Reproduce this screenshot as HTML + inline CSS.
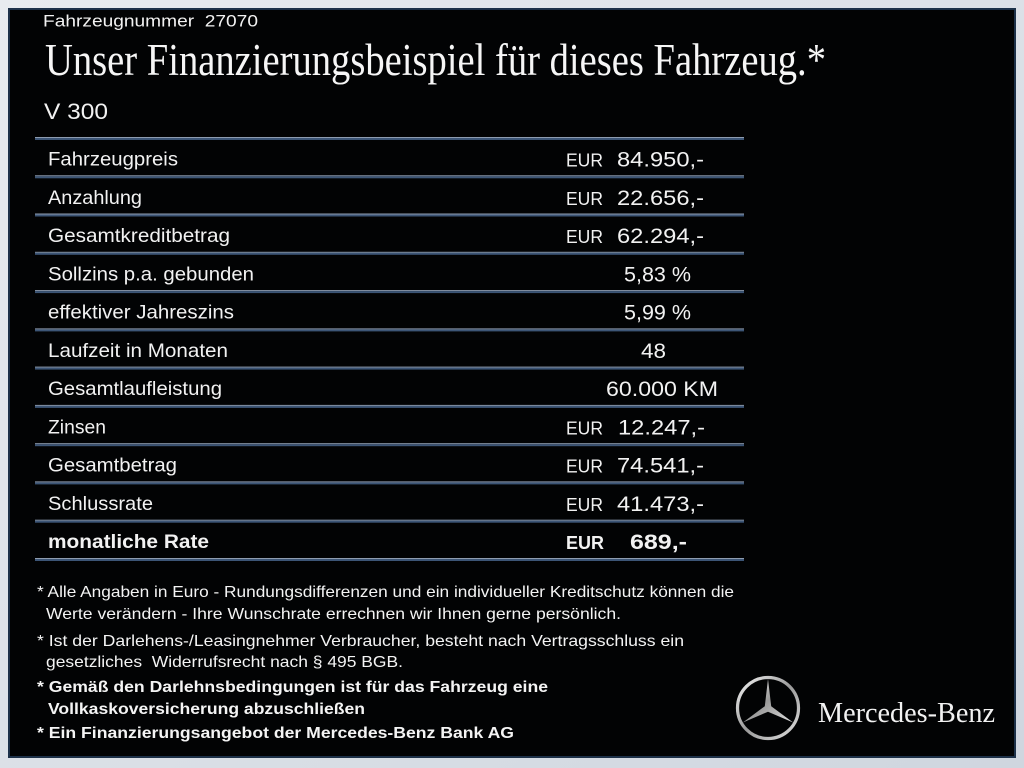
<!DOCTYPE html>
<html>
<head>
<meta charset="utf-8">
<style>
html,body{margin:0;padding:0;width:1024px;height:768px;overflow:hidden;background:#dde2e8;}
svg{display:block;}
.lab{font-family:"Liberation Sans",sans-serif;font-size:19.5px;fill:#f2f2f2;}
.eur{font-family:"Liberation Sans",sans-serif;font-size:18px;fill:#f2f2f2;}
.num{font-family:"Liberation Sans",sans-serif;font-size:21px;fill:#f2f2f2;}
.b{font-weight:bold;}
.fn{font-family:"Liberation Sans",sans-serif;font-size:16px;fill:#f4f4f4;}
</style>
</head>
<body>
<svg width="1024" height="768" viewBox="0 0 1024 768" xmlns="http://www.w3.org/2000/svg">
<defs>
<linearGradient id="bg" x1="0" y1="0" x2="1" y2="1">
<stop offset="0" stop-color="#e8ebef"/>
<stop offset="1" stop-color="#cfd6df"/>
</linearGradient>
<linearGradient id="silver" x1="0" y1="0" x2="1" y2="1">
<stop offset="0" stop-color="#f4f4f4"/>
<stop offset="0.5" stop-color="#9a9a9a"/>
<stop offset="1" stop-color="#e0e0e0"/>
</linearGradient>
</defs>
<rect x="0" y="0" width="1024" height="768" fill="url(#bg)"/>
<rect x="9" y="9" width="1006" height="748" fill="#020304" stroke="#1d3149" stroke-width="2"/>

<text x="43" y="26.5" font-family="Liberation Sans, sans-serif" font-size="16.3" fill="#f2f2f2" textLength="215" lengthAdjust="spacingAndGlyphs" xml:space="preserve">Fahrzeugnummer  27070</text>
<text x="45" y="75" font-family="Liberation Serif, serif" font-size="45" fill="#f6f6f6" textLength="781" lengthAdjust="spacingAndGlyphs">Unser Finanzierungsbeispiel für dieses Fahrzeug.*</text>
<text x="44" y="119" font-family="Liberation Sans, sans-serif" font-size="22" fill="#f2f2f2" textLength="64" lengthAdjust="spacingAndGlyphs">V 300</text>

<g id="lines">
<rect x="35" y="137" width="709" height="1" fill="#8e9cb0"/><rect x="35" y="138" width="709" height="2" fill="#3c5576"/>
<rect x="35" y="175.3" width="709" height="1" fill="#8e9cb0"/><rect x="35" y="176.3" width="709" height="2" fill="#3c5576"/>
<rect x="35" y="213.5" width="709" height="1" fill="#8e9cb0"/><rect x="35" y="214.5" width="709" height="2" fill="#3c5576"/>
<rect x="35" y="251.8" width="709" height="1" fill="#8e9cb0"/><rect x="35" y="252.8" width="709" height="2" fill="#3c5576"/>
<rect x="35" y="290.1" width="709" height="1" fill="#8e9cb0"/><rect x="35" y="291.1" width="709" height="2" fill="#3c5576"/>
<rect x="35" y="328.4" width="709" height="1" fill="#8e9cb0"/><rect x="35" y="329.4" width="709" height="2" fill="#3c5576"/>
<rect x="35" y="366.6" width="709" height="1" fill="#8e9cb0"/><rect x="35" y="367.6" width="709" height="2" fill="#3c5576"/>
<rect x="35" y="404.9" width="709" height="1" fill="#8e9cb0"/><rect x="35" y="405.9" width="709" height="2" fill="#3c5576"/>
<rect x="35" y="443.2" width="709" height="1" fill="#8e9cb0"/><rect x="35" y="444.2" width="709" height="2" fill="#3c5576"/>
<rect x="35" y="481.4" width="709" height="1" fill="#8e9cb0"/><rect x="35" y="482.4" width="709" height="2" fill="#3c5576"/>
<rect x="35" y="519.7" width="709" height="1" fill="#8e9cb0"/><rect x="35" y="520.7" width="709" height="2" fill="#3c5576"/>
<rect x="35" y="558" width="709" height="1" fill="#8e9cb0"/><rect x="35" y="559" width="709" height="2" fill="#3c5576"/>
</g>

<!-- labels -->
<text class="lab" x="48" y="165.5" textLength="130" lengthAdjust="spacingAndGlyphs">Fahrzeugpreis</text>
<text class="lab" x="48" y="203.8" textLength="94" lengthAdjust="spacingAndGlyphs">Anzahlung</text>
<text class="lab" x="48" y="242" textLength="182" lengthAdjust="spacingAndGlyphs">Gesamtkreditbetrag</text>
<text class="lab" x="48" y="280.3" textLength="206" lengthAdjust="spacingAndGlyphs">Sollzins p.a. gebunden</text>
<text class="lab" x="48" y="318.6" textLength="186" lengthAdjust="spacingAndGlyphs">effektiver Jahreszins</text>
<text class="lab" x="48" y="356.9" textLength="180" lengthAdjust="spacingAndGlyphs">Laufzeit in Monaten</text>
<text class="lab" x="48" y="395.1" textLength="174" lengthAdjust="spacingAndGlyphs">Gesamtlaufleistung</text>
<text class="lab" x="48" y="433.4" textLength="58" lengthAdjust="spacingAndGlyphs">Zinsen</text>
<text class="lab" x="48" y="471.7" textLength="129" lengthAdjust="spacingAndGlyphs">Gesamtbetrag</text>
<text class="lab" x="48" y="509.9" textLength="105" lengthAdjust="spacingAndGlyphs">Schlussrate</text>
<text class="lab b" x="48" y="548.2" textLength="161" lengthAdjust="spacingAndGlyphs">monatliche Rate</text>

<!-- values -->
<text class="eur" x="566" y="166.5" textLength="37" lengthAdjust="spacingAndGlyphs">EUR</text>
<text class="num" x="617" y="166.5" textLength="87" lengthAdjust="spacingAndGlyphs">84.950,-</text>
<text class="eur" x="566" y="204.8" textLength="37" lengthAdjust="spacingAndGlyphs">EUR</text>
<text class="num" x="617" y="204.8" textLength="87" lengthAdjust="spacingAndGlyphs">22.656,-</text>
<text class="eur" x="566" y="243" textLength="37" lengthAdjust="spacingAndGlyphs">EUR</text>
<text class="num" x="617" y="243" textLength="87" lengthAdjust="spacingAndGlyphs">62.294,-</text>
<text class="num" x="624" y="281.3" textLength="67" lengthAdjust="spacingAndGlyphs">5,83 %</text>
<text class="num" x="624" y="319.6" textLength="67" lengthAdjust="spacingAndGlyphs">5,99 %</text>
<text class="num" x="641" y="358" textLength="25" lengthAdjust="spacingAndGlyphs">48</text>
<text class="num" x="606" y="396.1" textLength="112" lengthAdjust="spacingAndGlyphs">60.000 KM</text>
<text class="eur" x="566" y="434.4" textLength="37" lengthAdjust="spacingAndGlyphs">EUR</text>
<text class="num" x="618" y="434.4" textLength="87" lengthAdjust="spacingAndGlyphs">12.247,-</text>
<text class="eur" x="566" y="472.7" textLength="37" lengthAdjust="spacingAndGlyphs">EUR</text>
<text class="num" x="617" y="472.7" textLength="87" lengthAdjust="spacingAndGlyphs">74.541,-</text>
<text class="eur" x="566" y="510.9" textLength="37" lengthAdjust="spacingAndGlyphs">EUR</text>
<text class="num" x="617" y="510.9" textLength="87" lengthAdjust="spacingAndGlyphs">41.473,-</text>
<text class="eur b" x="566" y="549.2" textLength="38" lengthAdjust="spacingAndGlyphs">EUR</text>
<text class="num b" x="630" y="549.2" textLength="57" lengthAdjust="spacingAndGlyphs">689,-</text>

<!-- footnotes -->
<text class="fn" x="37" y="597" textLength="697" lengthAdjust="spacingAndGlyphs">* Alle Angaben in Euro - Rundungsdifferenzen und ein individueller Kreditschutz können die</text>
<text class="fn" x="46" y="619" textLength="575" lengthAdjust="spacingAndGlyphs">Werte verändern - Ihre Wunschrate errechnen wir Ihnen gerne persönlich.</text>
<text class="fn" x="37" y="646" textLength="647" lengthAdjust="spacingAndGlyphs">* Ist der Darlehens-/Leasingnehmer Verbraucher, besteht nach Vertragsschluss ein</text>
<text class="fn" x="46" y="667" textLength="357" lengthAdjust="spacingAndGlyphs" xml:space="preserve">gesetzliches  Widerrufsrecht nach § 495 BGB.</text>
<text class="fn b" x="37" y="692" textLength="511" lengthAdjust="spacingAndGlyphs">* Gemäß den Darlehnsbedingungen ist für das Fahrzeug eine</text>
<text class="fn b" x="48" y="714" textLength="317" lengthAdjust="spacingAndGlyphs">Vollkaskoversicherung abzuschließen</text>
<text class="fn b" x="37" y="738" textLength="477" lengthAdjust="spacingAndGlyphs">* Ein Finanzierungsangebot der Mercedes-Benz Bank AG</text>

<!-- logo -->
<circle cx="768" cy="708" r="30.5" fill="none" stroke="url(#silver)" stroke-width="3.2"/>
<polygon points="768,679 771.2,706.2 793.1,722.5 768,711.7 742.9,722.5 764.8,706.2" fill="url(#silver)"/>
<text x="818" y="722" font-family="Liberation Serif, serif" font-size="28" fill="#f2f2f2" textLength="177" lengthAdjust="spacingAndGlyphs">Mercedes-Benz</text>
</svg>
</body>
</html>
